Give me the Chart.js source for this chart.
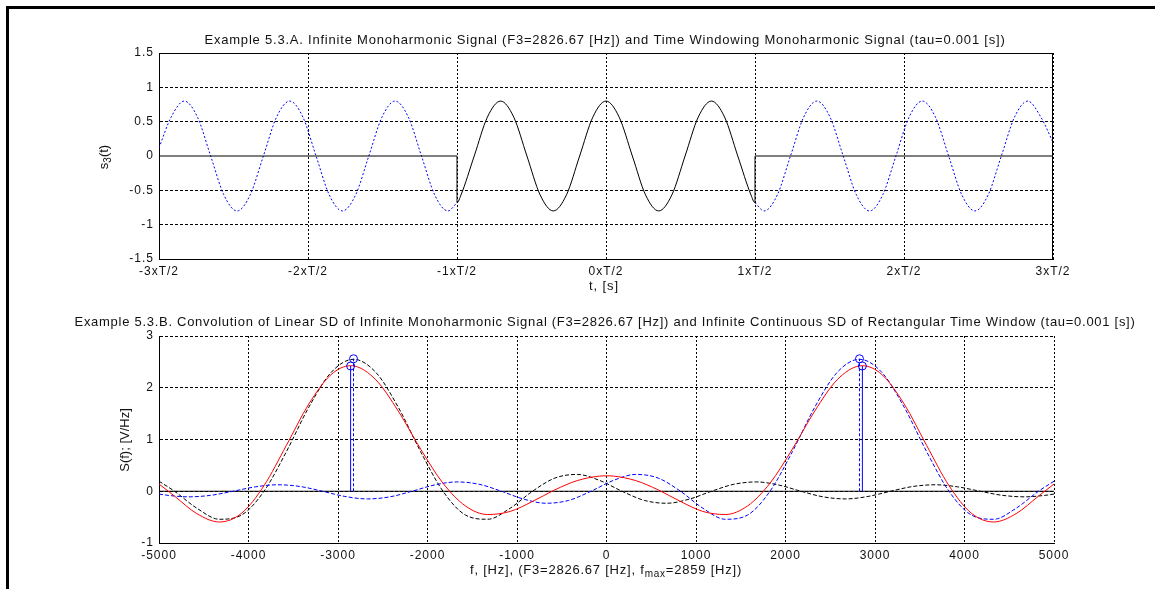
<!DOCTYPE html>
<html>
<head>
<meta charset="utf-8">
<script src="https://cdn.jsdelivr.net/npm/chart.js@4.4.1/dist/chart.umd.min.js"></script>
<style>
    html, body { margin: 0; padding: 0; background: #fff; }
    body { width: 1155px; height: 589px; position: relative; overflow: hidden; }
    #chartTop { position: absolute; left: 0; top: 0; }
    #chartBottom { position: absolute; left: 0; top: 300px; }
    #frame { position: absolute; left: 6px; top: 6px; width: 1149px; height: 583px;
             border-top: 3px solid #000; border-left: 3px solid #000; box-sizing: border-box; }
</style>
</head>
<body>
<canvas id="chartTop" width="1155" height="300"></canvas>
<canvas id="chartBottom" width="1155" height="289"></canvas>
<div id="frame"></div>
<script>
// ---- upper plot: time axis in units of T/2 ----
var timeTickLabels = ['-3xT/2', '-2xT/2', '-1xT/2', '0xT/2', '1xT/2', '2xT/2', '3xT/2'];
var ampTickLabels = ['-1.5', '-1', '-0.5', '0', '0.5', '1', '1.5'];

// infinite signal left of the window (blue dotted)
var infLeftT = [-3, -2.9187, -2.8302, -2.7418, -2.6533, -2.5649, -2.4764, -2.3880, -2.2995, -2.2111, -2.1227,
    -2.0342, -1.9458, -1.8573, -1.7689, -1.6804, -1.5920, -1.5036, -1.4151, -1.3267, -1.2382, -1.1498, -1.0613, -1];
var infLeftS = [0.12, 0.566, 0.8, 0.566, 0, -0.566, -0.8, -0.566, 0, 0.566, 0.8,
    0.566, 0, -0.566, -0.8, -0.566, 0, 0.566, 0.8, 0.566, 0, -0.566, -0.8, -0.68];

// infinite signal right of the window (blue dotted)
var infRightT = [1, 1.0613, 1.1498, 1.2382, 1.3267, 1.4151, 1.5036, 1.5920, 1.6804, 1.7689, 1.8573, 1.9458,
    2.0342, 2.1227, 2.2111, 2.2995, 2.3880, 2.4764, 2.5649, 2.6533, 2.7418, 2.8302, 2.9187, 3];
var infRightS = [-0.68, -0.8, -0.566, 0, 0.566, 0.8, 0.566, 0, -0.566, -0.8, -0.566, 0,
    0.566, 0.8, 0.566, 0, -0.566, -0.8, -0.566, 0, 0.566, 0.8, 0.566, 0.2];

// time windowed signal (black solid)
var windowT = [-3, -1, -1, -0.9729, -0.8844, -0.7960, -0.7076, -0.6191, -0.5307, -0.4422, -0.3538, -0.2653,
    -0.1769, -0.0884, 0, 0.0884, 0.1769, 0.2653, 0.3538, 0.4422, 0.5307, 0.6191, 0.7076, 0.7960, 0.8844,
    0.9729, 1, 1, 3];
var windowS = [0, 0, -0.68, -0.566, 0, 0.566, 0.8, 0.566, 0, -0.566, -0.8, -0.566,
    0, 0.566, 0.8, 0.566, 0, -0.566, -0.8, -0.566, 0, 0.566, 0.8, 0.566, 0,
    -0.566, -0.68, 0, 0];

// ---- lower plot: spectral densities ----
var freqTickLabels = ['-5000', '-4000', '-3000', '-2000', '-1000', '0', '1000', '2000', '3000', '4000', '5000'];
var sdTickLabels = ['-1', '0', '1', '2', '3'];

// SD of window shifted to +F3 (blue dashed)
var blueF = [-5000, -4923.33, -4673.33, -4423.33, -4173.33, -3923.33, -3673.33, -3423.33, -3173.33, -2923.33,
    -2673.33, -2423.33, -2173.33, -1923.33, -1673.33, -1423.33, -1173.33, -923.33, -673.33, -423.33, -173.33,
    76.67, 326.67, 576.67, 826.67, 1076.67, 1326.67, 1576.67, 1826.67, 2076.67, 2326.67, 2576.67, 2826.67,
    3076.67, 3326.67, 3576.67, 3826.67, 4076.67, 4326.67, 4576.67, 4826.67, 5000];
var blueS = [-0.054, -0.074, -0.108, -0.079, 0, 0.085, 0.125, 0.092, 0, -0.100,
    -0.148, -0.109, 0, 0.121, 0.180, 0.135, 0, -0.153, -0.232, -0.177, 0,
    0.209, 0.325, 0.255, 0, -0.328, -0.541, -0.459, 0, 0.765, 1.623, 2.296, 2.55,
    2.296, 1.623, 0.765, 0, -0.459, -0.541, -0.328, 0, 0.194];

// SD of window shifted to -F3 (black dashed)
var blackF = [-5000, -4826.67, -4576.67, -4326.67, -4076.67, -3826.67, -3576.67, -3326.67, -3076.67, -2826.67,
    -2576.67, -2326.67, -2076.67, -1826.67, -1576.67, -1326.67, -1076.67, -826.67, -576.67, -326.67, -76.67,
    173.33, 423.33, 673.33, 923.33, 1173.33, 1423.33, 1673.33, 1923.33, 2173.33, 2423.33, 2673.33, 2923.33,
    3173.33, 3423.33, 3673.33, 3923.33, 4173.33, 4423.33, 4673.33, 4923.33, 5000];
var blackS = [0.194, 0, -0.328, -0.541, -0.459, 0, 0.765, 1.623, 2.296, 2.55,
    2.296, 1.623, 0.765, 0, -0.459, -0.541, -0.328, 0, 0.255, 0.325, 0.209,
    0, -0.177, -0.232, -0.153, 0, 0.135, 0.180, 0.121, 0, -0.109, -0.148, -0.100,
    0, 0.092, 0.125, 0.085, 0, -0.079, -0.108, -0.074, -0.054];

// convolution result (red solid)
var redF = [-5000, -4826.67, -4576.67, -4326.67, -4076.67, -3826.67, -3576.67, -3326.67, -3076.67, -2859,
    -2826.67, -2576.67, -2326.67, -2076.67, -1826.67, -1576.67, -1326.67, -1076.67, -826.67, -576.67, -326.67,
    -76.67, 0, 76.67, 326.67, 576.67, 826.67, 1076.67, 1326.67, 1576.67, 1826.67, 2076.67, 2326.67, 2576.67,
    2826.67, 2859, 3076.67, 3326.67, 3576.67, 3826.67, 4076.67, 4326.67, 4576.67, 4826.67, 5000];
var redS = [0.140, -0.094, -0.433, -0.594, -0.424, 0.108, 0.886, 1.684, 2.255, 2.426,
    2.423, 2.153, 1.550, 0.815, 0.155, -0.283, -0.450, -0.390, -0.197, 0.027, 0.206,
    0.293, 0.298, 0.293, 0.206, 0.027, -0.197, -0.390, -0.450, -0.283, 0.155, 0.815, 1.550, 2.153,
    2.423, 2.426, 2.255, 1.684, 0.886, 0.108, -0.424, -0.594, -0.433, -0.094, 0.140];

// stems: line spectrum at +-F3 (dashed) and the maximum at +-fmax (solid)
var peakF = [-2826.67, 2826.67];
var peakS = [2.56, 2.56];
var maxF = [-2859, 2859];
var maxS = [2.42, 2.42];

var zeroF = [-5000, 5000];
var zeroS = [0, 0];

var FONT_FAMILY = "'Liberation Sans', Arial, sans-serif";

function pts(xs, ys) {
    return xs.map(function (x, i) { return { x: x, y: ys[i] }; });
}

function stemPts(xs, ys) {
    var out = [];
    xs.forEach(function (x, i) {
        out.push({ x: x, y: 0 }, { x: x, y: ys[i] }, { x: x, y: null });
    });
    return out;
}

// pieces like [{t:'f'}, {t:'max', sub:true}] drawn centered at (cx, y),
// letter spacing stretched so the whole thing is `width` wide (matlab font is wider)
function drawParts(ctx, parts, cx, y, size, width) {
    ctx.letterSpacing = '0px';
    var natural = 0, chars = 0;
    parts.forEach(function (p) {
        ctx.font = (p.sub ? size - 3 : size) + 'px ' + FONT_FAMILY;
        natural += ctx.measureText(p.t).width;
        chars += p.t.length;
    });
    var sp = Math.max(0, (width - natural) / chars);
    ctx.letterSpacing = sp + 'px';
    var total = 0;
    parts.forEach(function (p) {
        ctx.font = (p.sub ? size - 3 : size) + 'px ' + FONT_FAMILY;
        p.w = ctx.measureText(p.t).width;
        total += p.w;
    });
    var x = cx - total / 2;
    ctx.textAlign = 'left';
    parts.forEach(function (p) {
        ctx.font = (p.sub ? size - 3 : size) + 'px ' + FONT_FAMILY;
        ctx.fillText(p.t, x, p.sub ? y + 4 : y);
        x += p.w;
    });
}

var matlabText = {
    id: 'matlabText',
    beforeDraw: function (chart) {
        chart.ctx.letterSpacing = '1px';
    },
    afterDraw: function (chart, args, opts) {
        var ctx = chart.ctx;
        var area = chart.chartArea;
        ctx.save();
        if (opts.box) {
            ctx.strokeStyle = '#000';
            ctx.lineWidth = 1;
            ctx.beginPath();
            ctx.moveTo(Math.round(area.left) + 0.5, Math.round(area.top) + 0.5);
            ctx.lineTo(Math.round(area.right) - 0.5, Math.round(area.top) + 0.5);
            ctx.lineTo(Math.round(area.right) - 0.5, Math.round(area.bottom));
            ctx.stroke();
        }
        ctx.fillStyle = '#111';
        ctx.textBaseline = 'middle';
        drawParts(ctx, [{ t: opts.title }], opts.titleX, opts.titleY, 13, opts.titleWidth);
        drawParts(ctx, opts.xLabel, opts.xLabelX, opts.xLabelY, 13, opts.xLabelWidth);
        ctx.translate(opts.yLabelX, opts.yLabelY);
        ctx.rotate(-Math.PI / 2);
        drawParts(ctx, opts.yLabel, 0, 0, 13, opts.yLabelWidth);
        ctx.restore();
    }
};

function axisX(min, max, step, labels) {
    return {
        type: 'linear', min: min, max: max,
        afterFit: function (s) { s.height = 20; },
        grid: { color: '#000', lineWidth: 1, drawTicks: false },
        border: { color: '#000', width: 1, dash: [2, 2] },
        ticks: {
            stepSize: step, padding: 5, maxRotation: 0, autoSkip: false, color: '#111',
            font: { family: FONT_FAMILY, size: 12 },
            callback: function (v, i) { return labels[i]; }
        }
    };
}

function axisY(min, max, step, labels, hideZero) {
    return {
        type: 'linear', min: min, max: max,
        afterFit: function (s) { s.width = 50; },
        grid: {
            lineWidth: 1, drawTicks: false,
            color: function (c) { return hideZero && c.tick && c.tick.value === 0 ? 'rgba(0,0,0,0)' : '#000'; }
        },
        border: { color: '#000', width: 1, dash: [3, 2] },
        ticks: {
            stepSize: step, padding: 5, autoSkip: false, color: '#111',
            font: { family: FONT_FAMILY, size: 12 },
            callback: function (v, i) { return labels[i]; }
        }
    };
}

var lineBase = { pointRadius: 0, borderWidth: 1, fill: false, cubicInterpolationMode: 'monotone', spanGaps: false };

// ---- upper chart ----
new Chart(document.getElementById('chartTop'), {
    type: 'line',
    data: {
        datasets: [
            Object.assign({ data: pts(windowT, windowS), borderColor: '#000' }, lineBase),
            Object.assign({ data: pts(infLeftT, infLeftS), borderColor: '#0000ff', borderDash: [2, 2] }, lineBase),
            Object.assign({ data: pts(infRightT, infRightS), borderColor: '#0000ff', borderDash: [2, 2] }, lineBase)
        ]
    },
    options: {
        responsive: false,
        animation: false,
        layout: { padding: { left: 109, right: 102, top: 53, bottom: 21 } },
        plugins: {
            legend: { display: false },
            tooltip: { enabled: false },
            matlabText: {
                box: true,
                title: 'Example 5.3.A. Infinite Monoharmonic Signal (F3=2826.67 [Hz]) and Time Windowing Monoharmonic Signal (tau=0.001 [s])',
                titleX: 605, titleY: 40, titleWidth: 801,
                xLabel: [{ t: 't, [s]' }], xLabelX: 604, xLabelY: 286, xLabelWidth: 30,
                yLabel: [{ t: 's' }, { t: '3', sub: true }, { t: '(t)' }], yLabelX: 104, yLabelY: 157, yLabelWidth: 23
            }
        },
        scales: {
            x: axisX(-3, 3, 1, timeTickLabels),
            y: axisY(-1.5, 1.5, 0.5, ampTickLabels, true)
        }
    },
    plugins: [matlabText]
});

// ---- lower chart ----
new Chart(document.getElementById('chartBottom'), {
    type: 'line',
    data: {
        datasets: [
            Object.assign({}, lineBase, {
                data: stemPts(maxF, maxS), borderColor: '#0000ff', cubicInterpolationMode: 'default',
                pointRadius: function (c) { return c.raw && c.raw.y ? 4 : 0; },
                pointStyle: 'circle', pointBorderColor: '#0000ff', pointBackgroundColor: 'rgba(0,0,0,0)', pointBorderWidth: 1
            }),
            Object.assign({}, lineBase, {
                data: stemPts(peakF, peakS), borderColor: '#0000ff', borderDash: [3, 2], cubicInterpolationMode: 'default',
                pointRadius: function (c) { return c.raw && c.raw.y ? 4 : 0; },
                pointStyle: 'circle', pointBorderColor: '#0000ff', pointBackgroundColor: 'rgba(0,0,0,0)', pointBorderWidth: 1
            }),
            Object.assign({ data: pts(redF, redS), borderColor: '#ff0000' }, lineBase),
            Object.assign({ data: pts(blueF, blueS), borderColor: '#0000ff', borderDash: [4, 2] }, lineBase),
            Object.assign({ data: pts(blackF, blackS), borderColor: '#000', borderDash: [4, 2] }, lineBase),
            Object.assign({ data: pts(zeroF, zeroS), borderColor: '#000' }, lineBase)
        ]
    },
    options: {
        responsive: false,
        animation: false,
        layout: { padding: { left: 109, right: 101, top: 36, bottom: 26 } },
        plugins: {
            legend: { display: false },
            tooltip: { enabled: false },
            matlabText: {
                box: false,
                title: 'Example 5.3.B. Convolution of Linear SD of Infinite Monoharmonic Signal (F3=2826.67 [Hz]) and Infinite Continuous SD of Rectangular Time Window (tau=0.001 [s])',
                titleX: 605, titleY: 22, titleWidth: 1061,
                xLabel: [{ t: 'f, [Hz], (F3=2826.67 [Hz], f' }, { t: 'max', sub: true }, { t: '=2859 [Hz])' }],
                xLabelX: 606, xLabelY: 270, xLabelWidth: 272,
                yLabel: [{ t: 'S(f); [V/Hz]' }], yLabelX: 125, yLabelY: 140, yLabelWidth: 60
            }
        },
        scales: {
            x: axisX(-5000, 5000, 1000, freqTickLabels),
            y: axisY(-1, 3, 1, sdTickLabels, false)
        }
    },
    plugins: [matlabText]
});
</script>
</body>
</html>
